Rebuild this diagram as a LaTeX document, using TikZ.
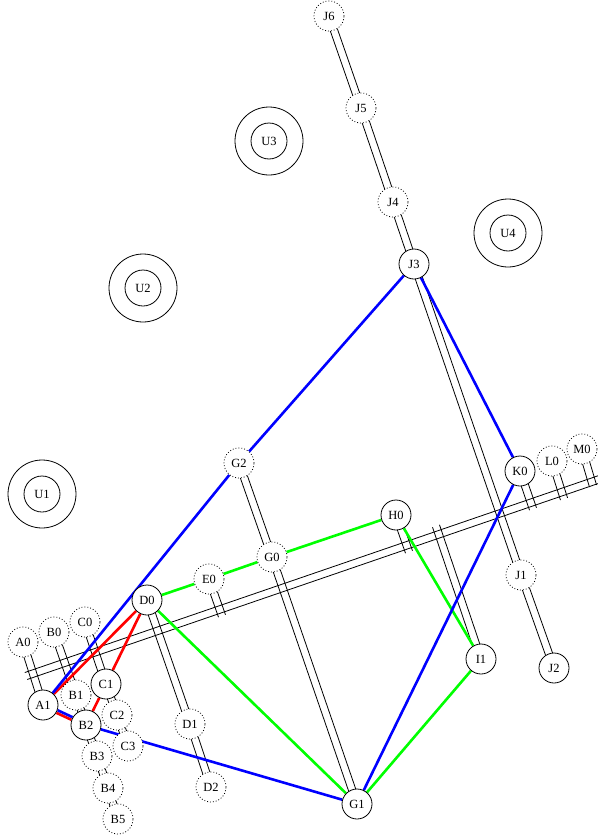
\documentclass[tikz,border=0pt]{standalone}
\usepackage{fontspec}
\setmainfont{Liberation Serif}
\usetikzlibrary{calc}
\pgfdeclarelayer{bg}
\pgfsetlayers{bg,main}
\tikzset{
  nd/.style={circle, draw, line width=0.8pt, fill=white, minimum size=30pt, inner sep=0pt, font=\fontsize{12.5}{13}\selectfont},
  dnd/.style={nd, dash pattern=on 0.9pt off 2pt},
  ring/.style={circle, draw, line width=0.8pt, inner sep=0pt},
  dline/.style={line width=0.8pt, black},
  bluee/.style={draw=blue, line width=2.6pt},
  rede/.style={draw=red, line width=2.6pt},
  greene/.style={draw=green, line width=2.6pt},
}
\newcommand\dbl[4]{%
  \draw[dline] ($(#1.center)!#2!(#3.center)!3.7pt!90:(#3.center)$) -- ($(#3.center)!#4!(#1.center)!3.7pt!-90:(#1.center)$);
  \draw[dline] ($(#1.center)!#2!(#3.center)!3.7pt!-90:(#3.center)$) -- ($(#3.center)!#4!(#1.center)!3.7pt!90:(#1.center)$);}
\newcommand\dd[2]{\dbl{#1}{14.5pt}{#2}{14.5pt}}
\begin{document}
\begin{tikzpicture}[x=1pt,y=-1pt]
\useasboundingbox (0,0) rectangle (597,835);
% double-circle nodes
\node[ring, minimum size=68pt] (U1o) at (42,494) {};
\node[ring, minimum size=36pt, font=\fontsize{12.5}{13}\selectfont] (U1) at (42,494) {U1};
\node[ring, minimum size=68pt] (U2o) at (143,288) {};
\node[ring, minimum size=36pt, font=\fontsize{12.5}{13}\selectfont] (U2) at (143,288) {U2};
\node[ring, minimum size=68pt] (U3o) at (269,141) {};
\node[ring, minimum size=36pt, font=\fontsize{12.5}{13}\selectfont] (U3) at (269,141) {U3};
\node[ring, minimum size=68pt] (U4o) at (508,233) {};
\node[ring, minimum size=36pt, font=\fontsize{12.5}{13}\selectfont] (U4) at (508,233) {U4};
% nodes
\node[dnd] (J6) at (329,16) {J6};
\node[dnd] (J5) at (361,108) {J5};
\node[dnd] (J4) at (393,202) {J4};
\node[nd] (J3) at (414,264) {J3};
\node[dnd] (G2) at (239,463) {G2};
\node[nd] (K0) at (520,471) {K0};
\node[dnd] (L0) at (552,461) {L0};
\node[dnd] (M0) at (582,449) {M0};
\node[nd] (H0) at (396,515) {H0};
\node[dnd] (G0) at (272,557) {G0};
\node[dnd] (E0) at (209,579) {E0};
\node[nd] (D0) at (147,600) {D0};
\node[dnd] (J1) at (521,575) {J1};
\node[nd] (I1) at (481,659) {I1};
\node[nd] (J2) at (554,668) {J2};
\node[dnd] (A0) at (23,642) {A0};
\node[dnd] (B0) at (54,632) {B0};
\node[dnd] (C0) at (85,622) {C0};
\node[nd] (A1) at (43,705) {A1};
\node[dnd] (B1) at (76,695) {B1};
\node[nd] (C1) at (106,684) {C1};
\node[nd] (B2) at (86,725) {B2};
\node[dnd] (C2) at (117,715) {C2};
\node[dnd] (C3) at (128,746) {C3};
\node[dnd] (B3) at (97,756) {B3};
\node[dnd] (B4) at (108,788) {B4};
\node[dnd] (B5) at (118,819) {B5};
\node[dnd] (D1) at (190,724) {D1};
\node[dnd] (D2) at (211,787) {D2};
\node[nd] (G1) at (357,804) {G1};
% free ends
\coordinate (Lw) at (26,676);
\coordinate (Le) at (600,479);
\coordinate (sE0) at (222,616);
\coordinate (sH0) at (409,552);
\coordinate (sI1) at (436,526);
\coordinate (sK0) at (533,509);
\coordinate (sL0) at (564,499);
\coordinate (sM0) at (593,486);
\begin{pgfonlayer}{bg}
% black double lines
\dbl{Lw}{0pt}{Le}{0pt}
\dd{J6}{J5}\dd{J5}{J4}\dd{J4}{J3}\dd{J3}{J1}\dd{J1}{J2}
\dd{G2}{G0}\dd{G0}{G1}\dd{D0}{D1}\dd{D1}{D2}
\dd{A0}{A1}\dd{B0}{B1}\dd{C0}{C1}
\dd{B1}{B2}\dd{B2}{B3}\dd{B3}{B4}\dd{B4}{B5}\dd{C1}{C2}\dd{C2}{C3}
\dbl{E0}{14.5pt}{sE0}{0pt}
\dbl{H0}{14.5pt}{sH0}{0pt}
\dbl{I1}{14.5pt}{sI1}{0pt}
\dbl{K0}{14.5pt}{sK0}{0pt}
\dbl{L0}{14.5pt}{sL0}{0pt}
\dbl{M0}{14.5pt}{sM0}{0pt}
% coloured cycles
\draw[greene] (D0) -- (E0) (E0) -- (G0) (G0) -- (H0) (H0) -- (I1) (I1) -- (G1) (G1) -- (D0);
\draw[rede] (A1) -- (D0) (D0) -- (C1) (C1) -- (B2);
\draw[rede, transform canvas={shift={(-0.6,1.3)}}] (B2) -- (A1);
\draw[bluee] (A1) -- (G2) (G2) -- (J3) (J3) -- (K0) (K0) -- (G1) (G1) -- (B2);
\draw[bluee, transform canvas={shift={(0.6,-1.3)}}] (B2) -- (A1);
\end{pgfonlayer}
\end{tikzpicture}
\end{document}
